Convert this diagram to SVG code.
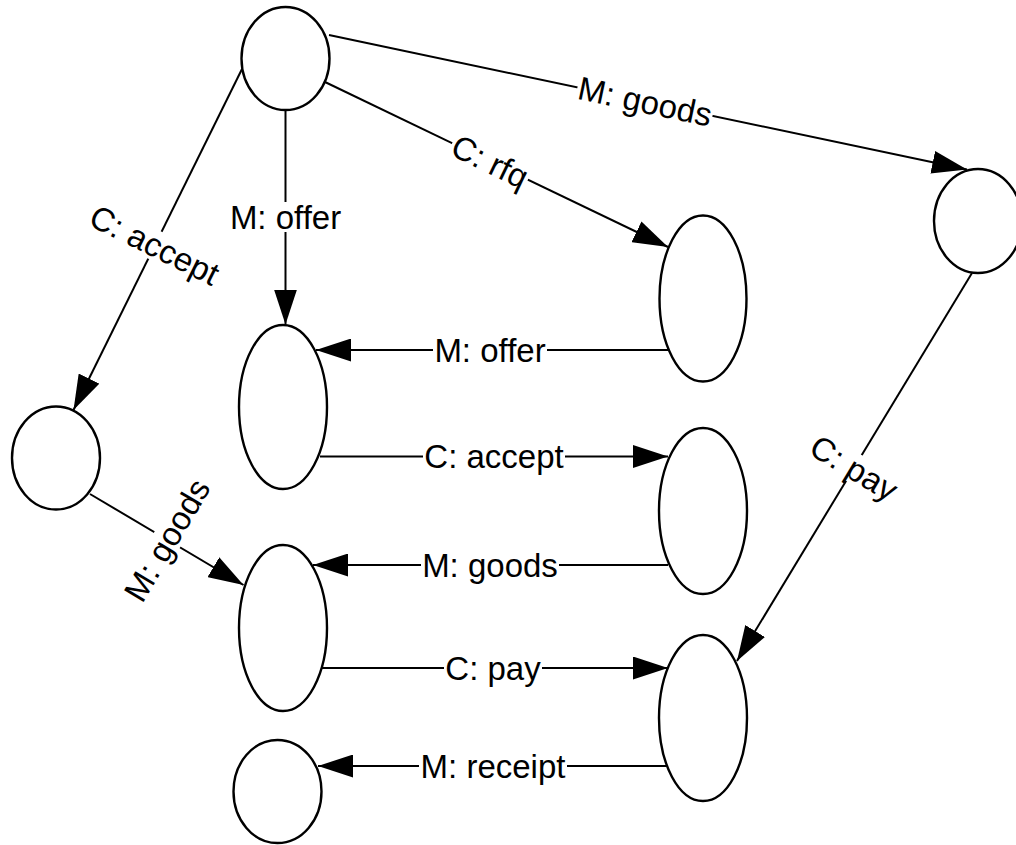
<svg xmlns="http://www.w3.org/2000/svg" width="1016" height="845" viewBox="0 0 1016 845">
<style>
.node{fill:#fff;stroke:#000;stroke-width:2.4}
.edge{fill:none;stroke:#000;stroke-width:2;marker-end:url(#arrow)}
.lbg{fill:#fff}
.lbl{font-family:"Liberation Sans",Arial,sans-serif;font-size:33px;fill:#000;text-anchor:middle}
</style>
<defs>
<marker id="arrow" markerUnits="userSpaceOnUse" viewBox="0 0 35 23" refX="35" refY="11.5" markerWidth="35" markerHeight="23" orient="auto">
<path d="M0,0 L35,11.5 L0,23 z" fill="#000"/>
</marker>
</defs>
<rect width="1016" height="845" fill="#fff"/>
<g id="connectors">
<line class="edge" x1="329" y1="35" x2="967" y2="169.5"/>
<line class="edge" x1="325" y1="82" x2="668" y2="247"/>
<line class="edge" x1="285.5" y1="110" x2="285.5" y2="324.5"/>
<line class="edge" x1="242" y1="69" x2="73.5" y2="410"/>
<line class="edge" x1="668" y1="350" x2="316" y2="350"/>
<line class="edge" x1="320" y1="456.5" x2="668" y2="456.5"/>
<line class="edge" x1="668" y1="565" x2="313" y2="565"/>
<line class="edge" x1="90" y1="494" x2="243.5" y2="585"/>
<line class="edge" x1="322" y1="668" x2="668" y2="668"/>
<line class="edge" x1="667" y1="766" x2="318" y2="766"/>
<line class="edge" x1="972" y1="273" x2="737" y2="661"/>
<g transform="translate(645,101.5) rotate(11.9)"><rect class="lbg" x="-69" y="-15" width="138" height="30"/><text class="lbl" x="0" y="11.5">M: goods</text></g>
<g transform="translate(490,161.5) rotate(25.7)"><rect class="lbg" x="-42" y="-15" width="84" height="30"/><text class="lbl" x="0" y="11.5">C: rfq</text></g>
<g transform="translate(285.5,217)"><rect class="lbg" x="-57" y="-15" width="114" height="30"/><text class="lbl" x="0" y="11.5">M: offer</text></g>
<g transform="translate(154.5,245) rotate(26.3)"><rect class="lbg" x="-71" y="-15" width="142" height="30"/><text class="lbl" x="0" y="11.5">C: accept</text></g>
<g transform="translate(490,350)"><rect class="lbg" x="-57" y="-15" width="114" height="30"/><text class="lbl" x="0" y="11.5">M: offer</text></g>
<g transform="translate(494,456.5)"><rect class="lbg" x="-71" y="-15" width="142" height="30"/><text class="lbl" x="0" y="11.5">C: accept</text></g>
<g transform="translate(490,565)"><rect class="lbg" x="-69" y="-15" width="138" height="30"/><text class="lbl" x="0" y="11.5">M: goods</text></g>
<g transform="translate(167,540) rotate(-59.3)"><rect class="lbg" x="-69" y="-15" width="138" height="30"/><text class="lbl" x="0" y="11.5">M: goods</text></g>
<g transform="translate(493,668)"><rect class="lbg" x="-49" y="-15" width="98" height="30"/><text class="lbl" x="0" y="11.5">C: pay</text></g>
<g transform="translate(493,766)"><rect class="lbg" x="-74" y="-15" width="148" height="30"/><text class="lbl" x="0" y="11.5">M: receipt</text></g>
<g transform="translate(854,468) rotate(31.2)"><rect class="lbg" x="-49" y="-15" width="98" height="30"/><text class="lbl" x="0" y="11.5">C: pay</text></g>
</g>
<g id="n1"><ellipse class="node" cx="285.5" cy="58.5" rx="44" ry="51.5"/></g>
<g id="n2"><ellipse class="node" cx="978" cy="221" rx="44" ry="52"/></g>
<g id="n3"><ellipse class="node" cx="703" cy="298.5" rx="43.5" ry="83"/></g>
<g id="n4"><ellipse class="node" cx="283" cy="407" rx="44" ry="82"/></g>
<g id="n5"><ellipse class="node" cx="56" cy="458" rx="44" ry="51.5"/></g>
<g id="n6"><ellipse class="node" cx="703" cy="511" rx="44" ry="83"/></g>
<g id="n7"><ellipse class="node" cx="283" cy="628" rx="44" ry="83"/></g>
<g id="n8"><ellipse class="node" cx="703" cy="718" rx="44" ry="83"/></g>
<g id="n9"><ellipse class="node" cx="277.5" cy="791.5" rx="44" ry="51.5"/></g>
</svg>
